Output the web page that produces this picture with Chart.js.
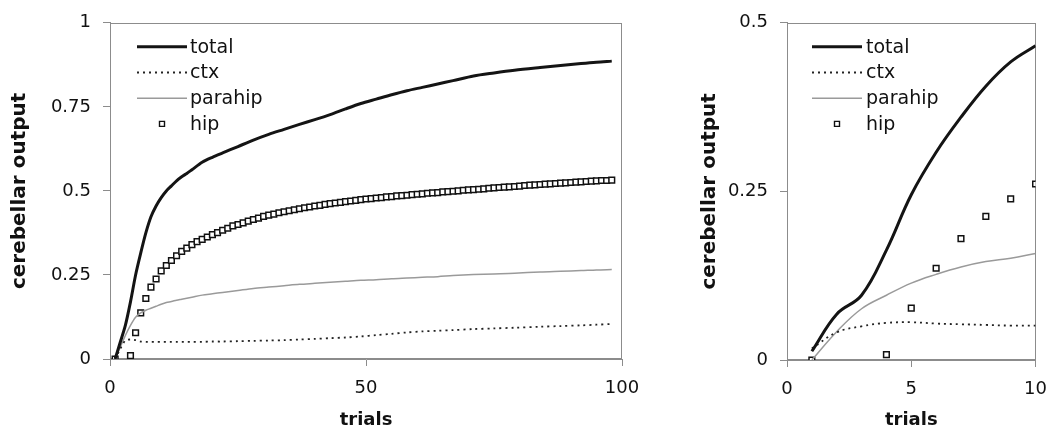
<!DOCTYPE html>
<html>
<head>
<meta charset="utf-8">
<script src="https://cdn.jsdelivr.net/npm/chart.js@4.4.1/dist/chart.umd.min.js"></script>
<style>
  html, body { margin: 0; padding: 0; background: #fff; }
  body { width: 1059px; height: 434px; position: relative; overflow: hidden; }
  canvas { position: absolute; top: 0; }
  #left { left: 0; }
  #right { left: 680px; }
</style>
</head>
<body>
<canvas id="left" width="660" height="434"></canvas>
<canvas id="right" width="379" height="434"></canvas>
<script>
// ---- left panel: 98 trials ----
const leftLineTrials = [1, 2, 3, 4, 5, 6, 7, 8, 9, 10, 11, 12, 13, 14, 15, 16, 18, 20, 22, 25, 28,
  31, 34, 37, 40, 43, 46, 49, 52, 55, 58, 61, 64, 67, 71, 75, 79, 84, 88, 92, 95, 98];
const leftTotal = [0, 0.05, 0.10, 0.17, 0.25, 0.315, 0.375, 0.423, 0.455, 0.48, 0.50, 0.515, 0.53,
  0.542, 0.552, 0.563, 0.585, 0.60, 0.613, 0.632, 0.651, 0.668, 0.683, 0.698, 0.712, 0.727, 0.744,
  0.760, 0.773, 0.786, 0.798, 0.808, 0.818, 0.828, 0.842, 0.851, 0.859, 0.867, 0.873, 0.879, 0.883, 0.886];
const leftCtx = [0, 0.03, 0.055, 0.058, 0.056, 0.052, 0.051, 0.051, 0.051, 0.051, 0.051, 0.051, 0.051,
  0.051, 0.051, 0.051, 0.051, 0.052, 0.052, 0.053, 0.054, 0.055, 0.056, 0.058, 0.06, 0.062, 0.064,
  0.067, 0.071, 0.075, 0.079, 0.082, 0.084, 0.086, 0.089, 0.091, 0.093, 0.096, 0.098, 0.1, 0.102, 0.104];
const leftParahip = [0, 0.035, 0.07, 0.10, 0.124, 0.137, 0.145, 0.151, 0.157, 0.163, 0.168, 0.171, 0.175,
  0.178, 0.181, 0.184, 0.19, 0.194, 0.198, 0.204, 0.21, 0.214, 0.218, 0.222, 0.225, 0.228, 0.231,
  0.234, 0.236, 0.239, 0.241, 0.243, 0.245, 0.248, 0.251, 0.253, 0.255, 0.259, 0.261, 0.263, 0.265, 0.266];
// one value per trial, starting at trial 1 (trials 2 and 3 have no marker)
const leftHip = [0, null, null, 0.01, 0.078, 0.137, 0.18, 0.214, 0.238, 0.262,
  0.278, 0.293, 0.307, 0.32, 0.33, 0.34, 0.349, 0.356, 0.363, 0.37,
  0.376, 0.383, 0.389, 0.396, 0.40, 0.405, 0.41, 0.415, 0.419, 0.424,
  0.428, 0.431, 0.435, 0.438, 0.441, 0.444, 0.447, 0.45, 0.452, 0.455,
  0.457, 0.46, 0.462, 0.464, 0.466, 0.468, 0.47, 0.472, 0.474, 0.476,
  0.477, 0.479, 0.48, 0.482, 0.483, 0.485, 0.486, 0.487, 0.489, 0.49,
  0.491, 0.493, 0.494, 0.495, 0.497, 0.498, 0.499, 0.5, 0.502, 0.503,
  0.504, 0.505, 0.506, 0.508, 0.509, 0.51, 0.511, 0.512, 0.513, 0.514,
  0.516, 0.517, 0.518, 0.519, 0.52, 0.521, 0.522, 0.523, 0.524, 0.525,
  0.526, 0.527, 0.528, 0.529, 0.53, 0.531, 0.531, 0.532];

// ---- right panel: first 10 trials ----
const rightTrials = [1, 2, 3, 4, 5, 6, 7, 8, 9, 10];
const rightTotal = [0.013, 0.068, 0.096, 0.163, 0.245, 0.308, 0.36, 0.406, 0.442, 0.466];
const rightCtx = [0.017, 0.041, 0.05, 0.055, 0.056, 0.054, 0.053, 0.052, 0.051, 0.051];
const rightParahip = [0, 0.042, 0.076, 0.096, 0.114, 0.127, 0.138, 0.146, 0.151, 0.158];
const rightHip = [0, null, null, 0.008, 0.077, 0.136, 0.18, 0.213, 0.239, 0.261];

const seriesNames = ["total", "ctx", "parahip", "hip"];
const FONT = "'DejaVu Sans', Verdana, sans-serif";
const INK = "#111";
const AXIS = "#8c8c8c";

Chart.defaults.font.family = FONT;
Chart.defaults.color = INK;

const pts = (xs, ys) => xs.map((x, i) => ({ x, y: ys[i] }));
const tickText = (v) => String(Number(v.toFixed(2)));

// box around the plot area (axes only cover left/bottom)
const frame = {
  id: "frame",
  beforeDatasetsDraw(chart) {
    const { ctx, chartArea: a } = chart;
    ctx.save();
    ctx.strokeStyle = AXIS;
    ctx.lineWidth = 1;
    ctx.strokeRect(Math.round(a.left) + 0.5, Math.round(a.top) + 0.5,
      Math.round(a.right - a.left) - 1, Math.round(a.bottom - a.top) - 1);
    ctx.restore();
  },
};

// legend sits inside the plot, top-left
const insetLegend = {
  id: "insetLegend",
  afterDraw(chart, args, opts) {
    const { ctx, chartArea: a } = chart;
    const x0 = a.left + opts.x;
    ctx.save();
    ctx.font = `19px ${FONT}`;
    ctx.textBaseline = "middle";
    chart.data.datasets.forEach((ds, i) => {
      const y = a.top + opts.y + i * opts.rowH;
      if (ds.showLine === false) {
        ctx.lineWidth = 1.4;
        ctx.strokeStyle = ds.borderColor;
        ctx.fillStyle = "#fff";
        ctx.beginPath();
        ctx.rect(x0 + opts.len / 2 - 2.5, y - 2.5, 5, 5);
        ctx.fill();
        ctx.stroke();
      } else {
        ctx.setLineDash(ds.borderDash || []);
        ctx.lineWidth = ds.borderWidth;
        ctx.strokeStyle = ds.borderColor;
        ctx.beginPath();
        ctx.moveTo(x0, y);
        ctx.lineTo(x0 + opts.len, y);
        ctx.stroke();
        ctx.setLineDash([]);
      }
      ctx.fillStyle = INK;
      ctx.fillText(ds.label, x0 + opts.len + opts.gap, y + 1);
    });
    ctx.restore();
  },
};

function datasets(lineTrials, total, ctxv, parahip, hipTrials, hip, tension) {
  return [
    { label: seriesNames[0], data: pts(lineTrials, total), borderColor: "#141414",
      borderWidth: 3, pointRadius: 0, tension },
    { label: seriesNames[1], data: pts(lineTrials, ctxv), borderColor: "#222",
      borderWidth: 1.8, borderDash: [2, 4], pointRadius: 0, tension },
    { label: seriesNames[2], data: pts(lineTrials, parahip), borderColor: "#9a9a9a",
      borderWidth: 1.5, pointRadius: 0, tension },
    { label: seriesNames[3], data: pts(hipTrials, hip), showLine: false, borderColor: "#111",
      backgroundColor: "#fff", pointStyle: "rect", pointRadius: 4, pointBorderWidth: 1.5,
      pointBorderColor: "#111", pointBackgroundColor: "#fff" },
  ];
}

function axes(xMax, xStep, yMax, yStep, yAxisW, xAxisH, yTitlePad) {
  const grid = { drawOnChartArea: false, drawTicks: true, tickLength: 7, color: AXIS };
  return {
    x: {
      type: "linear", min: 0, max: xMax,
      ticks: { stepSize: xStep, padding: 12, maxRotation: 0, font: { size: 18 }, color: INK,
        callback: tickText },
      grid, border: { color: AXIS },
      title: { display: true, text: "trials", color: INK,
        font: { size: 18, weight: "bold" }, padding: { top: 0, bottom: 3 } },
      afterFit: (s) => { s.height = xAxisH; },
    },
    y: {
      min: 0, max: yMax,
      ticks: { stepSize: yStep, padding: 12, font: { size: 18 }, color: INK, callback: tickText },
      grid, border: { color: AXIS },
      title: { display: true, text: "cerebellar output", color: INK,
        font: { size: 20, weight: "bold" }, padding: { top: yTitlePad, bottom: 0 } },
      afterFit: (s) => { s.width = yAxisW; },
    },
  };
}

const common = {
  responsive: false,
  animation: false,
  devicePixelRatio: 1,
  plugins: { legend: { display: false }, tooltip: { enabled: false } },
};

const hipTrialsL = leftHip.map((_, i) => i + 1);

new Chart(document.getElementById("left"), {
  type: "line",
  data: { datasets: datasets(leftLineTrials, leftTotal, leftCtx, leftParahip, hipTrialsL, leftHip, 0.3) },
  options: {
    ...common,
    layout: { padding: { top: 18, right: 38, bottom: 0, left: 0 } },
    scales: axes(100, 50, 1, 0.25, 110, 75, 8),
    plugins: { ...common.plugins, insetLegend: { x: 27, y: 24, rowH: 25.7, len: 50, gap: 3 } },
  },
  plugins: [frame, insetLegend],
});

new Chart(document.getElementById("right"), {
  type: "line",
  data: { datasets: datasets(rightTrials, rightTotal, rightCtx, rightParahip, rightTrials, rightHip, 0.4) },
  options: {
    ...common,
    layout: { padding: { top: 13, right: 16, bottom: 0, left: 0 } },
    scales: axes(10, 5, 0.5, 0.25, 107, 74, 18),
    plugins: { ...common.plugins, insetLegend: { x: 25, y: 24, rowH: 25.7, len: 50, gap: 4 } },
  },
  plugins: [frame, insetLegend],
});
</script>
</body>
</html>
